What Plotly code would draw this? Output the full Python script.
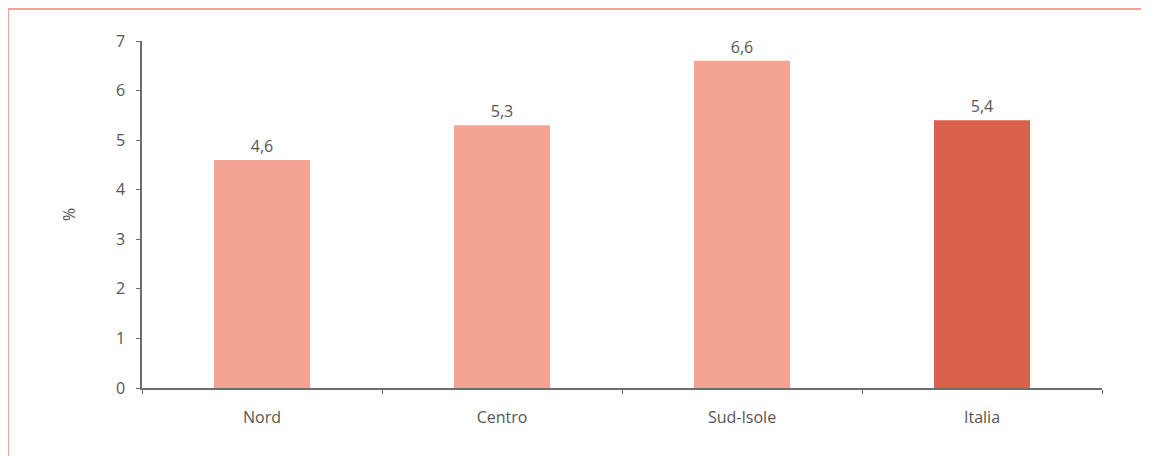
import plotly.graph_objects as go

# --- Data ---
regions = ["Nord", "Centro", "Sud-Isole", "Italia"]
values = [4.6, 5.3, 6.6, 5.4]
labels = ["4,6", "5,3", "6,6", "5,4"]
bar_colors = ["#f4a591", "#f4a591", "#f4a591", "#d9604a"]
y_ticks = [0, 1, 2, 3, 4, 5, 6, 7]

TEXT = "#555555"
AXIS = "#6e6e6e"

fig = go.Figure(go.Bar(
    x=regions,
    y=values,
    width=0.4,
    marker=dict(color=bar_colors, line=dict(width=0)),
    text=labels,
    textposition="outside",
    textfont=dict(size=16, color=TEXT),
    cliponaxis=False,
))

# page body has an 8px margin, so offsets below account for it
fig.update_layout(
    width=1149,
    height=456,
    margin=dict(l=134, r=55, t=33, b=76),
    paper_bgcolor="#ffffff",
    plot_bgcolor="#ffffff",
    font=dict(family="Open Sans, sans-serif", size=16, color=TEXT),
    showlegend=False,
    xaxis=dict(
        showline=True, linecolor=AXIS, linewidth=1.5,
        ticks="outside", tickson="boundaries", ticklen=4, tickcolor=AXIS,
        showgrid=False, tickfont=dict(size=16, color=TEXT),
        ticklabelstandoff=14,
    ),
    yaxis=dict(
        range=[0, 7], tickvals=y_ticks,
        showline=True, linecolor=AXIS, linewidth=1.5,
        ticks="outside", ticklen=4, tickcolor=AXIS,
        showgrid=False, zeroline=False,
        tickfont=dict(size=16, color=TEXT),
        ticklabelstandoff=8,
        title=dict(text="%", standoff=36, font=dict(size=16, color=TEXT)),
    ),
    shapes=[dict(
        type="rect", xref="paper", yref="paper",
        x0=-0.1396, x1=1.07, y0=-0.30, y1=1.092,
        line=dict(color="#f0a39a", width=2), layer="below",
    )],
)

fig.write_html("out.html")
